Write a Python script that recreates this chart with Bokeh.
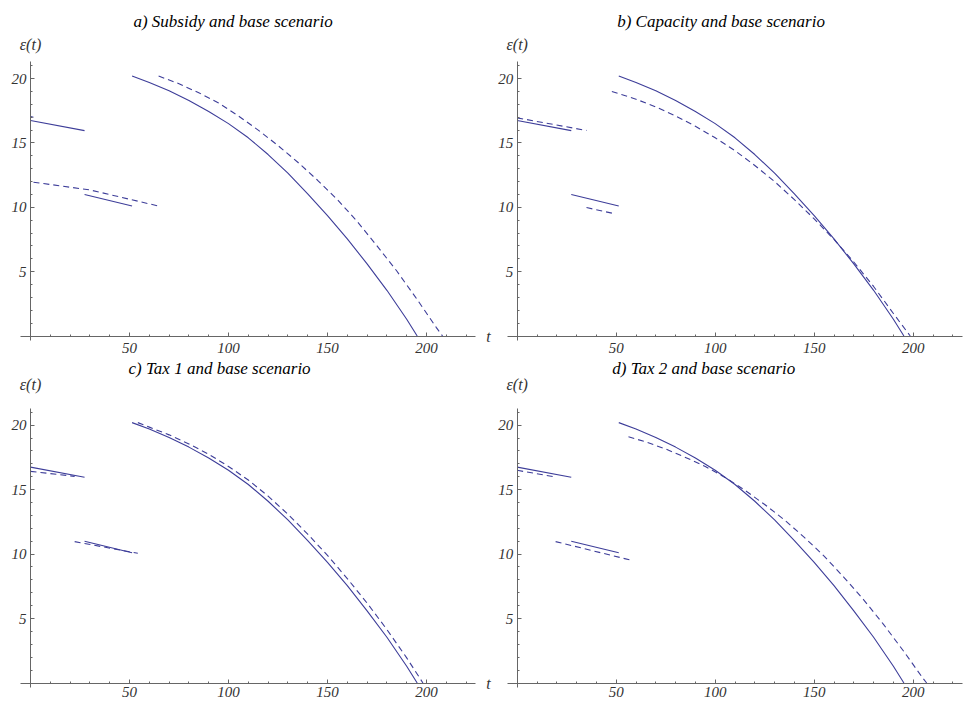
from bokeh.plotting import figure
from bokeh.models import Range1d, FixedTicker, Label
from bokeh.layouts import column, row
from bokeh.embed import file_html
from bokeh.resources import INLINE

# ---------------- data ----------------
titles = ["a) Subsidy and base scenario", "b) Capacity and base scenario",
          "c) Tax 1 and base scenario", "d) Tax 2 and base scenario"]

x_major = [50, 100, 150, 200]
x_minor = [10, 20, 30, 40, 60, 70, 80, 90, 110, 120, 130, 140, 160, 170, 180, 190, 210, 220]
y_major = [5, 10, 15, 20]
y_minor = [1, 2, 3, 4, 6, 7, 8, 9, 11, 12, 13, 14, 16, 17, 18, 19, 21]

# base scenario (solid, same in every panel)
base1_t = [0, 27.3]
base1_y = [16.75, 15.96]
base2_t = [27.3, 51.3]
base2_y = [11.0, 10.1]
base3_t = [51.3, 60, 70, 80, 90, 100, 110, 120, 130, 140, 150, 160, 170, 180, 190, 195.3]
base3_y = [20.2, 19.7, 19.05, 18.3, 17.45, 16.5, 15.4, 14.1, 12.65, 11.05, 9.35, 7.55, 5.6, 3.55, 1.3, 0]

# a) subsidy (dashed)
a1_t = [0, 1.5]
a1_y = [17.05, 17.0]
a2_t = [1.5, 30, 64.6]
a2_y = [11.95, 11.35, 10.1]
a3_t = [64.7, 75, 85, 95, 105, 115, 125, 135, 145, 155, 165, 175, 185, 195, 205, 208.1]
a3_y = [20.2, 19.6, 18.9, 18.1, 17.1, 16.0, 14.8, 13.5, 12.1, 10.6, 8.9, 7.0, 5.05, 2.9, 0.65, 0]

# b) capacity (dashed)
b1_t = [0, 35]
b1_y = [16.95, 15.97]
b2_t = [35, 48]
b2_y = [9.98, 9.54]
b3_t = [47.8, 60, 70, 80, 90, 100, 110, 120, 130, 140, 150, 160, 170, 180, 190, 198.5]
b3_y = [19.0, 18.4, 17.8, 17.1, 16.3, 15.4, 14.4, 13.25, 12.0, 10.6, 9.1, 7.5, 5.75, 3.85, 1.75, 0]

# c) tax 1 (dashed)
c1_t = [0, 22.3]
c1_y = [16.42, 16.03]
c2_t = [22.3, 54.2]
c2_y = [10.97, 10.06]
c3_t = [54.2, 60, 70, 80, 90, 100, 110, 120, 130, 140, 150, 160, 170, 180, 190, 198.2]
c3_y = [20.2, 19.85, 19.25, 18.55, 17.75, 16.8, 15.75, 14.5, 13.1, 11.55, 9.9, 8.1, 6.2, 4.15, 1.95, 0]

# d) tax 2 (dashed)
d1_t = [0, 19.4]
d1_y = [16.5, 15.98]
d2_t = [19.4, 56.9]
d2_y = [10.97, 9.55]
d3_t = [56.2, 65, 75, 85, 95, 105, 115, 125, 135, 145, 155, 165, 175, 185, 195, 205, 206.8]
d3_y = [19.1, 18.7, 18.15, 17.5, 16.8, 15.95, 14.95, 13.85, 12.65, 11.3, 9.85, 8.2, 6.45, 4.55, 2.5, 0.35, 0]

dashed_sets = [
    ([a1_t, a2_t, a3_t], [a1_y, a2_y, a3_y]),
    ([b1_t, b2_t, b3_t], [b1_y, b2_y, b3_y]),
    ([c1_t, c2_t, c3_t], [c1_y, c2_y, c3_y]),
    ([d1_t, d2_t, d3_t], [d1_y, d2_y, d3_y]),
]
title_x = [52.0, 50.5, 49.5, 48.0]

# ---------------- styling ----------------
LINE = "#3d3d99"
AXIS = "#666666"
LABEL = "#333333"
SERIF = "Liberation Serif"
X_PER_UNIT = 1.98


def make_panel(idx, width, height, axis_px_x, axis_px_y, y_per_unit, x_standoff,
               title_y, eps_y, show_t):
    x0 = -axis_px_x / X_PER_UNIT
    y1 = axis_px_y / y_per_unit
    p = figure(frame_width=width, frame_height=height,
               x_range=Range1d(x0, x0 + width / X_PER_UNIT),
               y_range=Range1d(y1 - height / y_per_unit, y1),
               min_border=0, min_border_left=0, min_border_right=0,
               min_border_top=0, min_border_bottom=0,
               output_backend="svg", toolbar_location=None,
               background_fill_color="white", border_fill_color="white")
    p.outline_line_color = None
    p.grid.visible = False

    p.xaxis.fixed_location = 0
    p.yaxis.fixed_location = 0
    p.xaxis.bounds = (-5, 224.8)
    p.yaxis.bounds = (-0.35, 21.3)
    p.xaxis.ticker = FixedTicker(ticks=x_major, minor_ticks=x_minor)
    p.yaxis.ticker = FixedTicker(ticks=y_major, minor_ticks=y_minor)
    for ax in (p.xaxis, p.yaxis):
        ax.axis_line_color = AXIS
        ax.axis_line_width = 1
        ax.major_tick_line_color = AXIS
        ax.minor_tick_line_color = AXIS
        ax.major_tick_in = 4
        ax.major_tick_out = 0
        ax.minor_tick_in = 2
        ax.minor_tick_out = 0
        ax.major_label_text_font = SERIF
        ax.major_label_text_font_style = "italic"
        ax.major_label_text_font_size = "15px"
        ax.major_label_text_color = LABEL
    p.xaxis.major_label_standoff = x_standoff
    p.yaxis.major_label_standoff = 4

    # base scenario
    p.multi_line(xs=[base1_t, base2_t, base3_t], ys=[base1_y, base2_y, base3_y],
                 line_color=LINE, line_width=1.1)
    xs, ys = dashed_sets[idx]
    p.multi_line(xs=xs, ys=ys, line_color=LINE, line_width=1.1, line_dash="6 4")

    p.add_layout(Label(x=title_x[idx], y=title_y, text=titles[idx], text_align="left",
                       text_baseline="middle", text_font=SERIF, text_font_style="italic",
                       text_font_size="17px", text_color="black"))
    p.add_layout(Label(x=0, y=eps_y, text="ε(t)", text_align="center",
                       text_baseline="middle", text_font=SERIF, text_font_style="italic",
                       text_font_size="16px", text_color=LABEL))
    if show_t:
        p.add_layout(Label(x=231.3, y=0, text="t", text_align="center",
                           text_baseline="middle", text_font=SERIF, text_font_style="italic",
                           text_font_size="16px", text_color=LABEL))
    return p


pa = make_panel(0, 492, 357, 30, 335.5, 12.87, 7, 24.4, 22.65, True)
pb = make_panel(1, 480, 357, 24.7, 335.5, 12.87, 7, 24.4, 22.65, False)
pc = make_panel(2, 492, 345, 30, 325.5, 12.89, 4, 24.4, 23.15, True)
pd = make_panel(3, 480, 345, 24.7, 325.5, 12.89, 4, 24.4, 23.15, False)

layout = column(row(pa, pb), row(pc, pd))

with open("out.html", "w") as f:
    f.write(file_html(layout, INLINE))
